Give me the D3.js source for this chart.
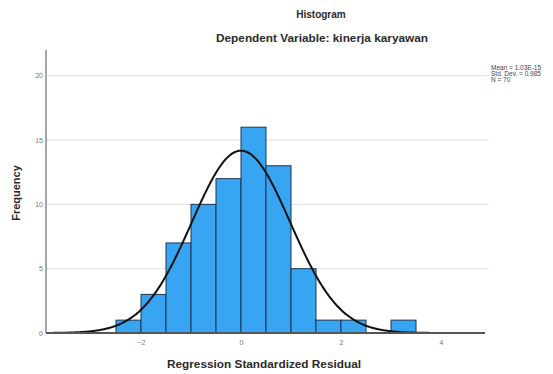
<!DOCTYPE html>
<html>
<head>
<meta charset="utf-8">
<script src="https://cdn.jsdelivr.net/npm/d3@7"></script>
<style>
  body { margin: 0; background: #fff; }
  svg { display: block; font-family: "Liberation Sans", Arial, sans-serif; }
</style>
</head>
<body>
<div id="chart"></div>
<script>
// histogram bins (left edge) and counts
const binStarts = [-2.5, -2.0, -1.5, -1.0, -0.5, 0.0, 0.5, 1.0, 1.5, 2.0, 2.5, 3.0];
const counts    = [1, 3, 7, 10, 12, 16, 13, 5, 1, 1, 0, 1];
const binWidth = 0.5;

const xTicks = [-2, 0, 2, 4];
const yTicks = [0, 5, 10, 15, 20];

// normal curve stats shown in legend
const stats = { mean: 0, sd: 0.985, n: 70 };
const legendLines = ["Mean = 1.03E-15", "Std. Dev. = 0.985", "N = 70"];

const W = 553, H = 374;
const plot = { left: 46, right: 485, top: 50, bottom: 333 };

const svg = d3.select("#chart").append("svg")
  .attr("width", W).attr("height", H);

const x = d3.scaleLinear().domain([-3.9, 4.88]).range([plot.left, plot.right]);
const y = d3.scaleLinear().domain([0, 22]).range([plot.bottom, plot.top]);

// gridlines
svg.append("g")
  .selectAll("line")
  .data(yTicks.filter(d => d > 0))
  .enter().append("line")
  .attr("x1", plot.left).attr("x2", plot.right + 4)
  .attr("y1", d => y(d)).attr("y2", d => y(d))
  .style("stroke", "#dedede").style("stroke-width", 1);

// y axis
const yAxis = svg.append("g")
  .attr("transform", `translate(${plot.left},0)`)
  .call(d3.axisLeft(y).tickValues(yTicks).tickSize(0).tickPadding(3));
yAxis.select(".domain").remove();
yAxis.selectAll("text").style("font-size", "7px").style("fill", "#777");
svg.append("line")
  .attr("x1", plot.left).attr("x2", plot.left)
  .attr("y1", plot.top).attr("y2", plot.bottom)
  .style("stroke", "#8a8a8a").style("stroke-width", 1.5);

// bars
svg.append("g")
  .selectAll("rect")
  .data(binStarts.map((s, i) => ({ s: s, c: counts[i] })).filter(d => d.c > 0))
  .enter().append("rect")
  .attr("x", d => x(d.s))
  .attr("y", d => y(d.c))
  .attr("width", d => x(d.s + binWidth) - x(d.s))
  .attr("height", d => y(0) - y(d.c))
  .style("fill", "#38a5f2")
  .style("stroke", "#1c3552")
  .style("stroke-width", 1);

// normal curve
const curve = d3.range(plot.left, plot.right + 1, 1).map(px => {
  const v = x.invert(px);
  const z = (v - stats.mean) / stats.sd;
  return [v, stats.n * binWidth / (stats.sd * Math.sqrt(2 * Math.PI)) * Math.exp(-0.5 * z * z)];
});
svg.append("path")
  .datum(curve)
  .attr("d", d3.line().x(d => x(d[0])).y(d => y(d[1])).curve(d3.curveBasis))
  .style("fill", "none")
  .style("stroke", "#111")
  .style("stroke-width", 2);

// x axis
const xAxis = svg.append("g")
  .attr("transform", `translate(0,${plot.bottom})`)
  .call(d3.axisBottom(x).tickValues(xTicks).tickSize(0).tickPadding(7));
xAxis.select(".domain").remove();
xAxis.selectAll("text").style("font-size", "7px").style("fill", "#777");
svg.append("line")
  .attr("x1", plot.left).attr("x2", plot.right)
  .attr("y1", plot.bottom).attr("y2", plot.bottom)
  .style("stroke", "#555").style("stroke-width", 2);

// titles
svg.append("text")
  .attr("x", 321).attr("y", 18)
  .attr("text-anchor", "middle")
  .style("font-size", "10px").style("font-weight", "bold").style("fill", "#2a2a2a")
  .text("Histogram");
svg.append("text")
  .attr("x", 322).attr("y", 42)
  .attr("text-anchor", "middle")
  .attr("textLength", 212).attr("lengthAdjust", "spacingAndGlyphs")
  .style("font-size", "11px").style("font-weight", "bold").style("fill", "#2a2a2a")
  .text("Dependent Variable: kinerja karyawan");

svg.append("text")
  .attr("x", 264).attr("y", 368)
  .attr("text-anchor", "middle")
  .attr("textLength", 194).attr("lengthAdjust", "spacingAndGlyphs")
  .style("font-size", "11px").style("font-weight", "bold").style("fill", "#2a2a2a")
  .text("Regression Standardized Residual");

svg.append("text")
  .attr("transform", "translate(20,193) rotate(-90)")
  .attr("text-anchor", "middle")
  .style("font-size", "11px").style("font-weight", "bold").style("fill", "#2a2a2a")
  .text("Frequency");

// legend
svg.append("g")
  .selectAll("text")
  .data(legendLines)
  .enter().append("text")
  .attr("x", 491)
  .attr("y", (d, i) => 70 + i * 6.2)
  .style("font-size", "6.5px").style("fill", "#444")
  .text(d => d);
</script>
</body>
</html>
